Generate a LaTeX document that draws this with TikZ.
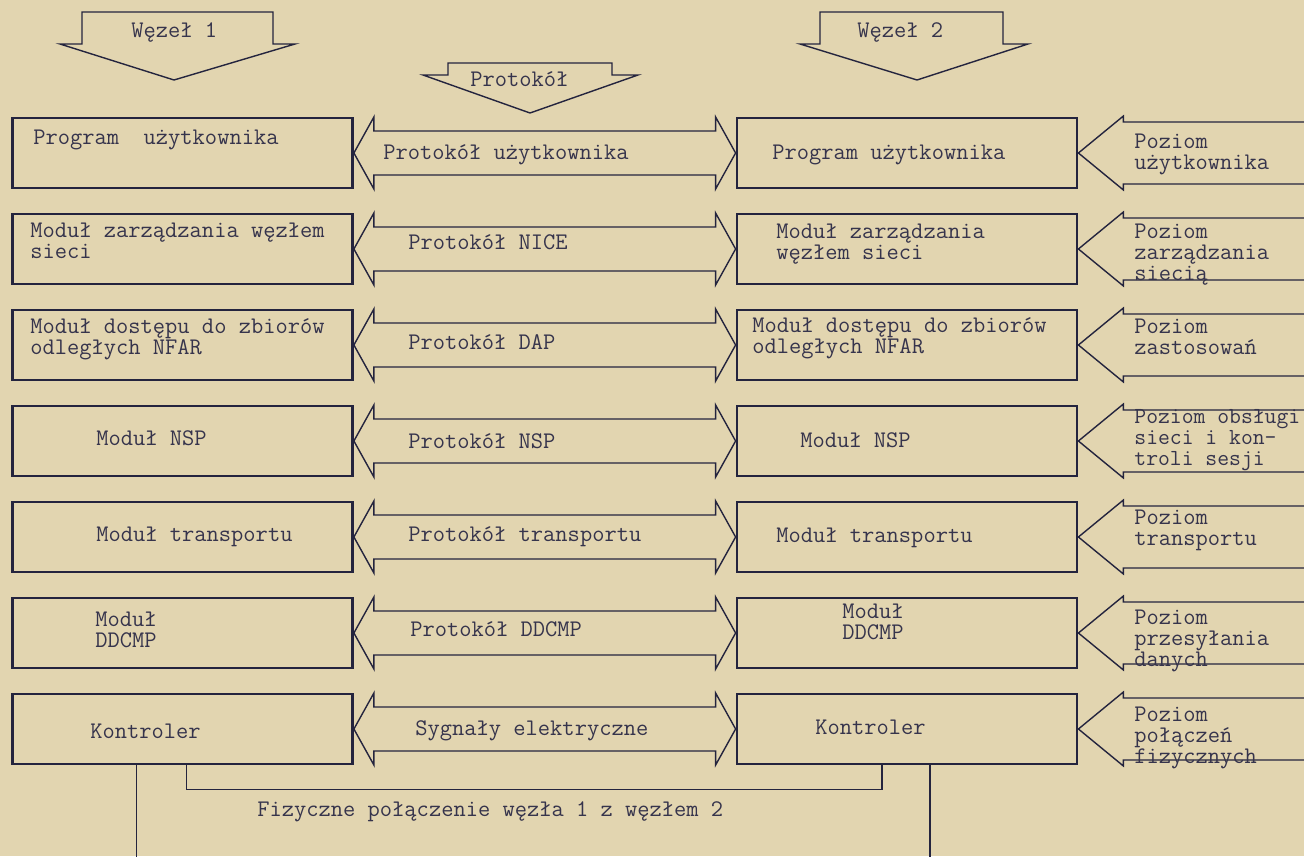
\documentclass[tikz,border=0pt]{standalone}
\usepackage{fontspec}
\usetikzlibrary{calc}

\definecolor{paper}{RGB}{226,213,176}
\definecolor{ink}{RGB}{36,36,62}
\definecolor{typed}{RGB}{54,52,76}
\newcommand{\typefont}{\fontsize{11.9pt}{10.5pt}\selectfont\ttfamily}

\begin{document}
\begin{tikzpicture}[x=0.5pt,y=-0.5pt,
  modbox/.style={draw=ink,line width=1.4pt,fill=paper,minimum width=170pt,minimum height=35pt,inner sep=0pt},
  typed/.style={anchor=west,align=left,text=typed,font=\typefont,inner sep=0pt},
  blockarrow/.style={draw=ink,line width=0.7pt}]

  % paper
  \fill[paper] (0,0) rectangle (1304,856);
  \useasboundingbox (0,0) rectangle (1304,856);

  % the three arrows on top
  \draw[blockarrow] (60,44) -- (82,44) -- (82,12) -- (273,12) -- (273,44) -- (295,44) -- (174,80) -- cycle;
  \draw[blockarrow] (423,75) -- (448,75) -- (448,63) -- (612,63) -- (612,75) -- (638,75) -- (530,113) -- cycle;
  \draw[blockarrow] (800,44) -- (820,44) -- (820,12) -- (1003,12) -- (1003,44) -- (1028,44) -- (917,80) -- cycle;
  \node[typed] (wezel1) at (131,33) {Węzeł 1};
  \node[typed] (protokol) at (470,79) {Protokół};
  \node[typed] (wezel2) at (857,33) {Węzeł 2};

  % modules of both nodes, protocols between them, levels on the right
  \foreach \i/\y in {1/153,2/249,3/345,4/441,5/537,6/633,7/729}{
    \node[modbox] (lewy\i) at (182.5,\y) {};
    \node[modbox] (prawy\i) at (907,\y) {};
    \draw[blockarrow] (lewy\i.east) -- ++(20,-36) -- ++(0,14) -- ($(prawy\i.west)+(-20,-22)$) -- ++(0,-14)
      -- (prawy\i.west) -- ++(-20,36) -- ++(0,-14) -- ($(lewy\i.east)+(20,22)$) -- ++(0,14) -- cycle;
    \draw[blockarrow] ($(prawy\i.east)+(227,-31)$) -- ($(prawy\i.east)+(45,-31)$) -- ++(0,-6)
      -- (prawy\i.east) -- ++(45,37) -- ++(0,-6) -- ++(182,0);
  }

  % texts of node 1
  \node[typed] (program1) at (33,140) {Program\ \ użytkownika};
  \node[typed] (zarzad1) at (30,241) {Moduł zarządzania węzłem\\sieci};
  \node[typed] (dostep1) at (30,339) {Moduł dostępu do zbiorów\\odległych NFAR};
  \node[typed] (nsp1) at (96,438) {Moduł NSP};
  \node[typed] (transport1) at (96,537) {Moduł transportu};
  \node[typed] (ddcmp1) at (95,630) {Moduł\\DDCMP};
  \node[typed] (kontroler1) at (90,731) {Kontroler};

  % texts of node 2
  \node[typed] (program2) at (772,155) {Program użytkownika};
  \node[typed] (zarzad2) at (776,244) {Moduł zarządzania\\węzłem sieci};
  \node[typed] (dostep2) at (752,338) {Moduł dostępu do zbiorów\\odległych NFAR};
  \node[typed] (nsp2) at (800,440) {Moduł NSP};
  \node[typed] (transport2) at (776,538) {Moduł transportu};
  \node[typed] (ddcmp2) at (842,622) {Moduł\\DDCMP};
  \node[typed] (kontroler2) at (815,727) {Kontroler};

  % protocols
  \node[typed] (protuzyt) at (383,155) {Protokół użytkownika};
  \node[typed] (protnice) at (408,242) {Protokół NICE};
  \node[typed] (protdap) at (408,342) {Protokół DAP};
  \node[typed] (protnsp) at (408,441) {Protokół NSP};
  \node[typed] (prottrans) at (408,537) {Protokół transportu};
  \node[typed] (protddcmp) at (410,629) {Protokół DDCMP};
  \node[typed] (sygnaly) at (415,731) {Sygnały elektryczne};

  % levels
  \node[typed] (pozuzyt) at (1134,154) {Poziom\\użytkownika};
  \node[typed] (pozsiec) at (1134,255) {Poziom\\zarządzania\\siecią};
  \node[typed] (pozzast) at (1134,337) {Poziom\\zastosowań};
  \node[typed,font=\fontsize{11.5pt}{10.5pt}\selectfont\ttfamily] (pozsesja) at (1134,440) {Poziom obsługi\\sieci i kon-\\troli sesji};
  \node[typed] (poztrans) at (1134,530) {Poziom\\transportu};
  \node[typed] (pozdane) at (1134,641) {Poziom\\przesyłania\\danych};
  \node[typed] (pozfiz) at (1134,738) {Poziom\\połączeń\\fizycznych};

  % physical link below the controllers
  \draw[blockarrow] ([xshift=2pt]lewy7.south) -- ++(0,24) -| ([xshift=-12.5pt]prawy7.south);
  \draw[blockarrow] ([xshift=-23pt]lewy7.south) -- ++(0,94);
  \draw[blockarrow] ([xshift=11.5pt]prawy7.south) -- ++(0,94);
  \node[typed] (fizyczne) at (257,812) {Fizyczne połączenie węzła 1 z węzłem 2};

\end{tikzpicture}
\end{document}
